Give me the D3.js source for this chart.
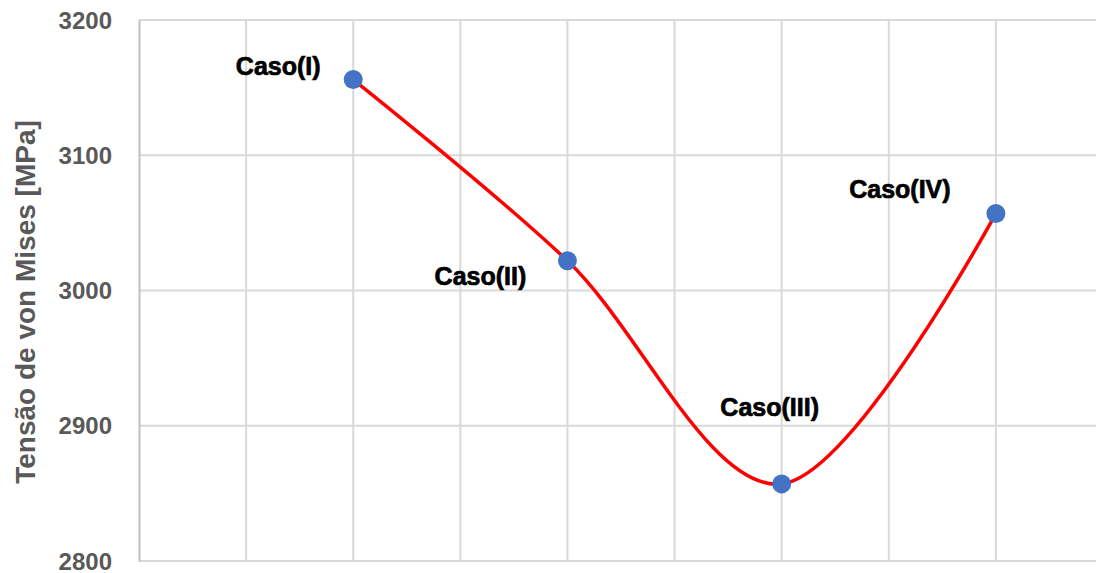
<!DOCTYPE html>
<html>
<head>
<meta charset="utf-8">
<script src="https://cdn.jsdelivr.net/npm/d3@7"></script>
<style>
  html, body { margin: 0; padding: 0; background: #fff; }
  svg { display: block; }
</style>
</head>
<body>
<svg id="chart" width="1096" height="573"></svg>
<script>
// Cases and von Mises stress values (MPa)
const cases = ["Caso(I)", "Caso(II)", "Caso(III)", "Caso(IV)"];
const xPos = [2, 4, 6, 8];
const stress = [3156, 3022, 2857, 3057];
const yTicks = [2800, 2900, 3000, 3100, 3200];
const xGrid = [0, 1, 2, 3, 4, 5, 6, 7, 8, 9];

// Label offsets (px) relative to each point: [dx to text centre, dy to baseline]
const labelOffsets = [[-75, -5], [-87, 24], [-12, -68], [-96, -15]];

const svg = d3.select("#chart");
const plotL = 139, plotT = 20, plotB = 561, plotR = 1103;

const x = d3.scaleLinear().domain([0, 9]).range([plotL, plotR]);
const y = d3.scaleLinear().domain([2800, 3200]).range([plotB, plotT]);

// Gridlines
const grid = svg.append("g");
grid.selectAll("line.h").data(yTicks).join("line")
  .attr("class", "h")
  .attr("x1", plotL).attr("x2", plotR)
  .attr("y1", d => y(d)).attr("y2", d => y(d))
  .attr("stroke", "#d9d9d9").attr("stroke-width", 2);
grid.selectAll("line.v").data(xGrid.slice(1)).join("line")
  .attr("class", "v")
  .attr("x1", d => x(d)).attr("x2", d => x(d))
  .attr("y1", plotT).attr("y2", plotB)
  .attr("stroke", "#d9d9d9").attr("stroke-width", 2);

// Y axis
const yAxis = d3.axisLeft(y).tickValues(yTicks).tickSize(0).tickPadding(27).tickFormat(d3.format("d"));
const ag = svg.append("g").attr("transform", `translate(${plotL},0)`).call(yAxis);
ag.select(".domain").attr("stroke", "#bfbfbf").attr("stroke-width", 2);
ag.selectAll("text")
  .attr("fill", "#595959")
  .attr("font-family", "'Liberation Sans', Arial, sans-serif")
  .attr("font-weight", "bold")
  .attr("font-size", 24)
  .attr("dy", "0.34em");

// Y axis title
svg.append("text")
  .attr("transform", `translate(35,302) rotate(-90)`)
  .attr("text-anchor", "middle")
  .attr("fill", "#595959")
  .attr("font-family", "'Liberation Sans', Arial, sans-serif")
  .attr("font-weight", "bold")
  .attr("font-size", 28)
  .text("Tensão de von Mises [MPa]");

// Smoothed line
const pts = stress.map((v, i) => ({ x: xPos[i], y: v, name: cases[i], off: labelOffsets[i] }));
const line = d3.line().x(d => x(d.x)).y(d => y(d.y)).curve(d3.curveCardinal.tension(0));
svg.append("path").datum(pts)
  .attr("d", line)
  .attr("fill", "none")
  .attr("stroke", "#ff0000")
  .attr("stroke-width", 3.5);

// Markers
svg.selectAll("circle.pt").data(pts).join("circle")
  .attr("class", "pt")
  .attr("cx", d => x(d.x)).attr("cy", d => y(d.y))
  .attr("r", 9.5)
  .attr("fill", "#4472c4");

// Case labels
svg.selectAll("text.lbl").data(pts).join("text")
  .attr("class", "lbl")
  .attr("x", d => x(d.x) + d.off[0])
  .attr("y", d => y(d.y) + d.off[1])
  .attr("text-anchor", "middle")
  .attr("fill", "#000")
  .attr("stroke", "#000").attr("stroke-width", 0.7)
  .attr("font-family", "'Liberation Sans', Arial, sans-serif")
  .attr("font-weight", "bold")
  .attr("font-size", 25)
  .text(d => d.name);
</script>
</body>
</html>
